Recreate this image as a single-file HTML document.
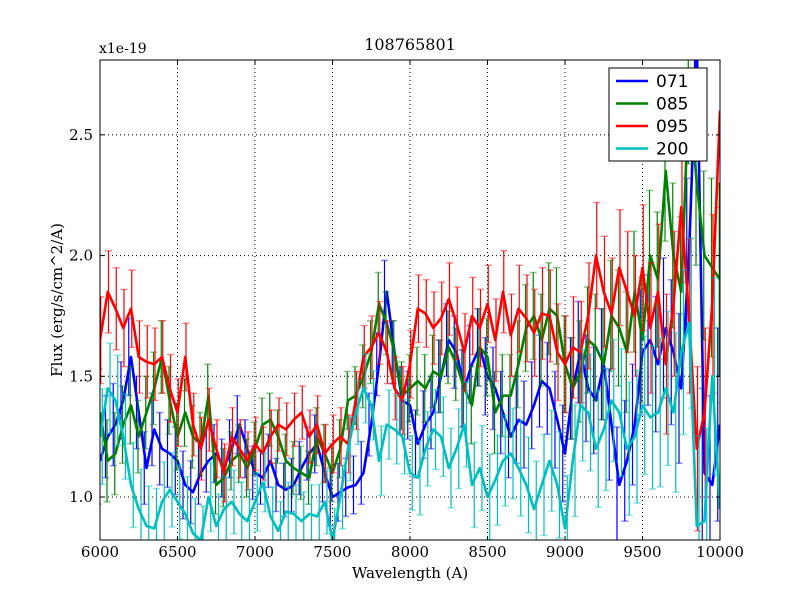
<!DOCTYPE html>
<html><head><meta charset="utf-8"><style>
body{margin:0;background:#fff}
svg text{font-family:"DejaVu Serif","Liberation Serif",serif;fill:#000}
</style></head><body>
<svg id="chart" width="800" height="600" xmlns="http://www.w3.org/2000/svg">
<rect width="800" height="600" fill="#fff"/>
<defs><clipPath id="clip"><rect x="100" y="60" width="620" height="480"/></clipPath></defs>
<g id="grid"></g>
<g id="series" clip-path="url(#clip)"></g>
<rect x="100" y="60" width="620" height="480" fill="none" stroke="#000" stroke-width="1"/>
<g id="axes"></g>
<text x="410" y="50" font-size="16" text-anchor="middle">108765801</text>
<text x="99" y="53" font-size="14">x1e-19</text>
<text x="410" y="578" font-size="15" text-anchor="middle">Wavelength (A)</text>
<text x="62" y="300" font-size="15" text-anchor="middle" transform="rotate(-90 62 300)">Flux (erg/s/cm^2/A)</text>
<g id="legend">
<rect x="609" y="68" width="98" height="93" fill="#fff" stroke="#000"/>
</g>
</svg>
<script>
const wavelengths=[6000,6050,6100,6150,6200,6250,6300,6350,6400,6450,6500,6550,6600,6650,6700,6750,6800,6850,6900,6950,7000,7050,7100,7150,7200,7250,7300,7350,7400,7450,7500,7550,7600,7650,7700,7750,7800,7850,7900,7950,8000,8050,8100,8150,8200,8250,8300,8350,8400,8450,8500,8550,8600,8650,8700,8750,8800,8850,8900,8950,9000,9050,9100,9150,9200,9250,9300,9350,9400,9450,9500,9550,9600,9650,9700,9750,9800,9850,9900,9950,10000];
const flux071=[1.15,1.25,1.30,1.40,1.58,1.35,1.12,1.28,1.20,1.18,1.15,1.05,1.02,1.10,1.15,1.18,1.12,1.20,1.30,1.20,1.10,1.08,1.15,1.05,1.03,1.05,1.12,1.18,1.22,1.10,1.00,1.02,1.04,1.05,1.10,1.30,1.55,1.85,1.60,1.40,1.38,1.22,1.30,1.35,1.50,1.65,1.60,1.45,1.55,1.62,1.50,1.45,1.35,1.25,1.32,1.30,1.38,1.48,1.45,1.32,1.18,1.45,1.60,1.45,1.40,1.55,1.30,1.05,1.15,1.30,1.60,1.65,1.55,1.70,1.60,1.45,2.00,2.90,1.10,1.05,1.30];
const flux085=[1.35,1.15,1.18,1.30,1.38,1.25,1.35,1.45,1.58,1.40,1.25,1.35,1.25,1.22,1.42,1.05,1.08,1.15,1.18,1.12,1.20,1.30,1.32,1.25,1.15,1.12,1.10,1.08,1.25,1.18,1.10,1.20,1.40,1.42,1.50,1.60,1.80,1.72,1.60,1.42,1.45,1.48,1.45,1.52,1.50,1.62,1.55,1.45,1.38,1.62,1.58,1.35,1.42,1.42,1.55,1.70,1.75,1.65,1.78,1.75,1.55,1.45,1.52,1.65,1.62,1.55,1.75,1.70,1.60,1.85,1.65,2.00,1.90,2.35,2.00,1.85,2.70,2.30,2.00,1.95,1.90];
const flux095=[1.65,1.85,1.78,1.70,1.78,1.58,1.56,1.55,1.58,1.45,1.35,1.58,1.30,1.20,1.32,1.20,1.10,1.25,1.20,1.15,1.22,1.18,1.25,1.30,1.28,1.32,1.35,1.25,1.30,1.18,1.22,1.25,1.22,1.40,1.58,1.62,1.68,1.60,1.45,1.40,1.55,1.78,1.76,1.70,1.74,1.82,1.72,1.60,1.75,1.70,1.80,1.65,1.85,1.67,1.78,1.74,1.68,1.76,1.75,1.60,1.55,1.62,1.60,1.75,2.00,1.85,1.76,1.95,1.85,1.75,1.95,1.70,1.85,1.55,1.80,2.20,1.75,1.20,1.35,1.80,2.60];
const flux200=[1.25,1.45,1.40,1.25,1.05,0.95,0.88,0.87,0.98,1.03,0.98,0.93,0.85,0.82,1.00,0.88,0.95,0.98,0.93,0.90,0.98,1.06,0.92,0.86,0.94,0.93,0.90,0.93,0.92,0.98,0.82,1.00,1.20,1.35,1.45,1.38,1.15,1.30,1.28,1.25,1.10,1.08,1.20,1.28,1.25,1.12,1.20,1.30,1.05,1.12,1.00,1.07,1.15,1.18,1.12,1.05,0.95,1.05,1.15,1.05,0.87,1.15,1.38,1.35,1.20,1.28,1.40,1.35,1.20,1.25,1.38,1.33,1.35,1.45,1.35,1.60,1.72,0.88,0.90,1.50,0.95];
const fluxErr=[0.18,0.17,0.17,0.16,0.16,0.15,0.15,0.15,0.15,0.14,0.14,0.14,0.13,0.13,0.13,0.12,0.12,0.12,0.12,0.12,0.11,0.11,0.11,0.11,0.11,0.11,0.11,0.11,0.12,0.12,0.12,0.12,0.12,0.12,0.13,0.13,0.13,0.13,0.13,0.14,0.14,0.14,0.14,0.15,0.15,0.15,0.15,0.16,0.16,0.16,0.16,0.17,0.17,0.17,0.18,0.18,0.18,0.19,0.19,0.20,0.20,0.21,0.21,0.22,0.22,0.23,0.23,0.24,0.25,0.25,0.26,0.27,0.28,0.29,0.30,0.31,0.32,0.34,0.35,0.37,0.40];
const seriesNames=["071","085","095","200"];
const seriesColors=["#0000ff","#008000","#ff0000","#00bfbf"];
const seriesData=[flux071,flux085,flux095,flux200];
const xTicks=[6000,6500,7000,7500,8000,8500,9000,9500,10000];
const yTicks=[1.0,1.5,2.0,2.5];
const yTickLabels=["1.0","1.5","2.0","2.5"];

const NS="http://www.w3.org/2000/svg";
const X0=100,X1=720,Y0=540,Y1=60,xmin=6000,xmax=10000,ymin=0.822,ymax=2.81;
const sx=v=>X0+(v-xmin)/(xmax-xmin)*(X1-X0);
const sy=v=>Y0-(v-ymin)/(ymax-ymin)*(Y0-Y1);
function mk(tag,attrs,parent){const e=document.createElementNS(NS,tag);for(const k in attrs)e.setAttribute(k,attrs[k]);parent.appendChild(e);return e;}
const grid=document.getElementById('grid'),axes=document.getElementById('axes'),ser=document.getElementById('series'),leg=document.getElementById('legend');
xTicks.forEach((t,i)=>{const x=sx(t);
 const g=mk('line',{x1:x,x2:x,y1:Y1,y2:Y0,stroke:'#000','stroke-dasharray':'1,3'},grid);
 
 
 mk('line',{x1:x,x2:x,y1:Y0,y2:Y0-4,stroke:'#000'},axes);
 mk('line',{x1:x,x2:x,y1:Y1,y2:Y1+4,stroke:'#000'},axes);
 const tx=mk('text',{x:x,y:557,'font-size':15,'text-anchor':'middle'},axes);tx.textContent=t;
 
 
});
yTicks.forEach((t,i)=>{const y=sy(t);
 const g=mk('line',{x1:X0,x2:X1,y1:y,y2:y,stroke:'#000','stroke-dasharray':'1,3'},grid);
 
 
 mk('line',{x1:X0,x2:X0+4,y1:y,y2:y,stroke:'#000'},axes);
 mk('line',{x1:X1,x2:X1-4,y1:y,y2:y,stroke:'#000'},axes);
 const tx=mk('text',{x:93,y:y+5,'font-size':15,'text-anchor':'end'},axes);tx.textContent=yTickLabels[i];
 
 
});
seriesData.forEach((d,si)=>{const c=seriesColors[si];
 const g=mk('g',{},ser);
 
 
 d.forEach((v,i)=>{const x=sx(wavelengths[i])+(si-1.5)*1.5,e=fluxErr[i]*(si===3?1.1:1);
  mk('line',{x1:x,x2:x,y1:sy(v-e),y2:sy(v+e),stroke:c,'stroke-width':1.2},g);
  mk('line',{x1:x-3.5,x2:x+3.5,y1:sy(v-e),y2:sy(v-e),stroke:c,'stroke-opacity':0.45,'stroke-width':1.5},g);
  mk('line',{x1:x-3.5,x2:x+3.5,y1:sy(v+e),y2:sy(v+e),stroke:c,'stroke-opacity':0.45,'stroke-width':1.5},g);
 });
 const pts=d.map((v,i)=>sx(wavelengths[i])+','+sy(v)).join(' ');
 const pl=mk('polyline',{points:pts,fill:'none',stroke:c,'stroke-width':2.6,'stroke-linejoin':'round'},g);
 
 
 const y=81+si*22.5;
 const ll=mk('line',{x1:616,x2:648,y1:y,y2:y,stroke:c,'stroke-width':2.6},leg);
 
 
 const lt=mk('text',{x:656,y:y+6,'font-size':17,style:'font-family:"DejaVu Sans","Liberation Sans",sans-serif'},leg);lt.textContent=seriesNames[si];
 
 
});
</script>
</body></html>
